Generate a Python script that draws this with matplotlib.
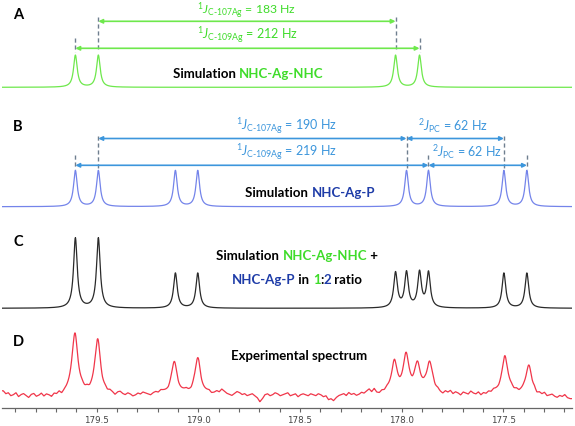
import numpy as np
import matplotlib
matplotlib.use("Agg")
import matplotlib.pyplot as plt
from matplotlib.transforms import IdentityTransform

# peak positions (ppm)
a_ppm = [179.605, 179.492, 178.030, 177.912]
b_ppm = [179.605, 179.492, 179.113, 179.003, 177.976, 177.868, 177.497, 177.384]
d_ppm = [179.607, 179.495, 179.118, 179.003, 178.036, 177.978, 177.922, 177.863, 177.492, 177.374]
d_height = [60, 55, 32, 36, 30, 36, 27, 30, 38, 29]

# experimental baseline wiggle (px), one value every 0.0125 ppm from 179.96
d_noise = [4, 1, 2, -1, 0, 2, -2, 0, 1, -1, -3, 0, 1, -2, -1, 1, -2, 0, -1, -3,
           0, -1, 1, -2, 0, 1, 2, 3, 1, 0, 1, 2, 0, 1, -1, 0, 1, 0, -1, -2,
           0, -1, 1, 0, -2, 1, 2, 0, -1, 1, 0, -2, -1, 1, 0, 2, 1, 0, -1, 1,
           2, 1, 3, 2, 1, 0, 2, 1, 0, -1, 0, 1, 2, 0, -1, 1, 0, 1, -1, 0,
           1, 2, 0, 1, 3, 2, 5, 3, 1, 0, -1, 1, 3, 2, 0, 1, -1, 0, 1, -1,
           -3, -7, -4, 0, 1, -1, 0, 2, 1, -1, 0, 1, 2, -1, 0, 1, -2, 0, 1, 0,
           -1, 1, 0, -1, 1, 0, -2, -1, -5, -4, -6, -3, -1, 0, 1, -1, 2, 0, 1, -1,
           0, 2, 1, 3, 5, 2, 5, 1, 0, 2, 1, 3, 2, 1, 2, 1, 0, 1, 2, 1,
           1, 0, 2, 1, 0, 1, 2, 0, 1, 3, 1, 2, 0, -1, 2, 1, 3, 0, 2, 1,
           -1, 2, 1, 0, 3, 1, 0, 2, -1, 1, 0, 2, 1, 3, 2, 1, 2, 1, 0, 2,
           3, 1, 2, 0, 1, 2, 1, 0, -1, 1, -2, 0, -1, 1, -2, -1, 0, -2, -3, -1,
           -2, 0, -3, -4, -4]

ticks = [179.5, 179.0, 178.5, 178.0, 177.5]

green = "#6ee84c"
green_txt = "#3fdc2a"
blue = "#7484ea"
blue_txt = "#3c96dc"
navy = "#1e3ca8"
gray_dash = "#6f7f8f"
red = "#f0364a"

plt.rcParams["mathtext.fontset"] = "custom"
plt.rcParams["mathtext.rm"] = "Lato"
plt.rcParams["mathtext.it"] = "Lato:italic"
plt.rcParams["mathtext.bf"] = "Lato:bold"

W, H = 575, 427
fig = plt.figure(figsize=(W / 100, H / 100), dpi=100)
ax = fig.add_axes([2 / W, 18 / H, 570 / W, 409 / H])
ax.set_xlim(179.966, 177.162)
ax.set_ylim(0, 409)


def py(y):
    # pixel row (from top of picture) -> data y
    return 409 - y


def lor(x, centers, heights, w):
    out = np.zeros_like(x)
    for c, h in zip(centers, heights):
        out += h / (1 + ((x - c) / w) ** 2)
    return out


x = np.linspace(179.966, 177.162, 4000)
wsim = 0.0108
spec_a = lor(x, a_ppm, [32] * len(a_ppm), wsim)
spec_b = lor(x, b_ppm, [36] * len(b_ppm), wsim)
spec_c = lor(x, a_ppm, [35] * len(a_ppm), wsim) + lor(x, b_ppm, [35] * len(b_ppm), wsim)
noise_ppm = 179.96 - 0.0125 * np.arange(len(d_noise))
spec_d = lor(x, d_ppm, d_height, 0.017) + np.interp(x, noise_ppm[::-1], np.array(d_noise[::-1], float))

ax.plot(x, py(88.3) + spec_a, color=green, lw=0.9)
ax.plot(x, py(207.7) + spec_b, color=blue, lw=0.9)
ax.plot(x, py(309.3) + spec_c, color="#2a2a2a", lw=0.9)
ax.plot(x, py(396) + spec_d, color=red, lw=0.9)

# axis
for s in ["top", "left", "right"]:
    ax.spines[s].set_visible(False)
ax.spines["bottom"].set_color("#666666")
ax.spines["bottom"].set_linewidth(0.9)
ax.set_yticks([])
ax.set_xticks(ticks)
ax.set_xticks(np.round(np.arange(179.9, 177.15, -0.1), 1), minor=True)
ax.tick_params(axis="x", which="both", length=2.7, width=0.8, color="#666666",
               labelsize=6.3, labelcolor="#444444", pad=2)
ax.set_xticklabels(["%.1f" % t for t in ticks], fontfamily="DejaVu Sans")


def vdash(p, y0, y1):
    ax.plot([p, p], [py(y0), py(y1)], color=gray_dash, lw=1.0, ls=(0, (3, 2)))


def darrow(p0, p1, y, color):
    ax.annotate("", xy=(p1, py(y)), xytext=(p0, py(y)),
                arrowprops=dict(arrowstyle="<|-|>", color=color, lw=1.2,
                                mutation_scale=6, shrinkA=0, shrinkB=0))


def jlabel(p, y, sup, sub, val, color, size=9):
    s = r"${}^{%s}\mathit{J}_{\mathrm{%s}}$ = %s Hz" % (sup, sub, val)
    ax.text(p, py(y), s, color=color, fontsize=size, fontfamily="Lato",
            ha="center", va="baseline")


def color_text(px, ypix, parts, size=9.5):
    r = fig.canvas.get_renderer()
    kw = dict(fontsize=size, fontfamily="Lato", fontweight="bold")

    def width(s):
        t = fig.text(0, 0, s + "|", **kw)
        v = t.get_window_extent(r).width
        t.remove()
        return v

    bar = width("")
    full = width("".join(s for s, _ in parts)) - bar
    X, Y = ax.transData.transform((px, py(ypix)))
    left = X - full / 2
    pre = ""
    for s, c in parts:
        off = width(pre) - bar
        fig.text(left + off, Y, s, color=c, transform=IdentityTransform(),
                 ha="left", va="baseline", **kw)
        pre += s


# panel A
vdash(a_ppm[1], 18, 52)
vdash(a_ppm[2], 18, 52)
vdash(a_ppm[0], 39, 53)
vdash(a_ppm[3], 39, 53)
darrow(a_ppm[1], a_ppm[2], 22.3, green)
darrow(a_ppm[0], a_ppm[3], 49.3, green)
jlabel((a_ppm[1] + a_ppm[2]) / 2, 13.5, "1", r"C\text{-}107Ag", "183", green_txt, 8.8)
jlabel((a_ppm[0] + a_ppm[3]) / 2, 39.5, "1", r"C\text{-}109Ag", "212", green_txt)

# panel B
for p in [b_ppm[1], b_ppm[4], b_ppm[6]]:
    vdash(p, 137, 169)
for p in [b_ppm[0], b_ppm[5], b_ppm[7]]:
    vdash(p, 156, 170)
darrow(b_ppm[1], b_ppm[4], 139.5, blue_txt)
darrow(b_ppm[4], b_ppm[6], 139.5, blue_txt)
darrow(b_ppm[0], b_ppm[5], 166.3, blue_txt)
darrow(b_ppm[5], b_ppm[7], 166.3, blue_txt)
jlabel(178.566, 130.5, "1", r"C\text{-}107Ag", "190", blue_txt)
jlabel(178.566, 157, "1", r"C\text{-}109Ag", "219", blue_txt)
jlabel(177.745, 130.5, "2", "PC", "62", blue_txt)
jlabel(177.68, 156.5, "2", "PC", "62", blue_txt)

# panel letters
for lab, yy in zip("ABCD", [15, 126.7, 242, 342]):
    fig.text(18 / W, 1 - yy / H, lab, fontsize=10.5, fontfamily="Lato",
             fontweight="bold", ha="center", va="center", color="black")

fig.canvas.draw()
color_text(178.756, 78.3, [("Simulation ", "black"), ("NHC-Ag-NHC", green_txt)])
color_text(178.45, 196.7, [("Simulation ", "black"), ("NHC-Ag-P", navy)])
color_text(178.514, 260, [("Simulation ", "black"), ("NHC-Ag-NHC", green_txt), (" +", "black")])
color_text(178.514, 283.5, [("NHC-Ag-P", navy), (" in ", "black"), ("1", green_txt),
                            (":", "black"), ("2", navy), (" ratio", "black")])
color_text(178.505, 360, [("Experimental spectrum", "black")])

fig.savefig("out.png", dpi=100)
